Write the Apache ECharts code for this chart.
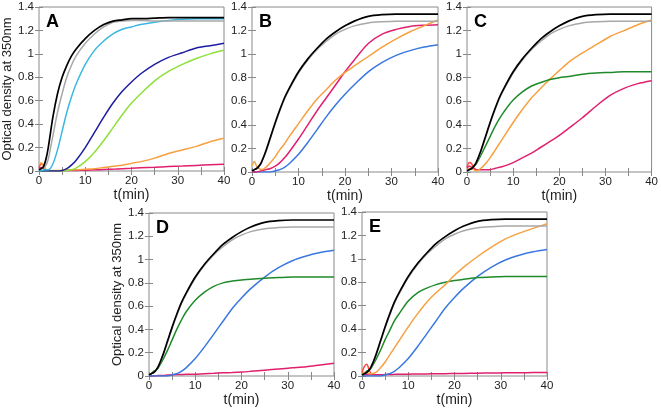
<!DOCTYPE html>
<html><head><meta charset="utf-8">
<script src="https://cdn.jsdelivr.net/npm/echarts@6/dist/echarts.min.js"></script>
<style>html,body{margin:0;padding:0;background:#fff}#c{width:661px;height:409px}</style>
</head><body><div id="c"></div>
<script>
// time points (min)
const T = [0,0.5,1,1.5,2,3,4,5,6,7,8,10,12,14,16,18,20,22,25,28,31,34,37,40];
const xTicks = [0,10,20,30,40];
const yTicks = [0,0.2,0.4,0.6,0.8,1,1.2,1.4];
const panelLabels = ['A','B','C','D','E'];

// Panel A
const A_black  = [0.01,0.02,0.04,0.1,0.2,0.46,0.66,0.8,0.9,0.98,1.04,1.13,1.2,1.25,1.28,1.29,1.3,1.3,1.305,1.31,1.31,1.31,1.31,1.31];
const A_gray   = [0.01,0.02,0.03,0.05,0.1,0.3,0.5,0.66,0.8,0.9,0.98,1.09,1.17,1.23,1.27,1.28,1.285,1.285,1.28,1.28,1.28,1.28,1.28,1.28];
const A_cyan   = [0,0,0.01,0.01,0.01,0.06,0.18,0.34,0.5,0.63,0.74,0.91,1.03,1.11,1.17,1.21,1.23,1.25,1.27,1.285,1.295,1.3,1.3,1.3];
const A_navy   = [0,0,0,0,0,0,0,0.005,0.02,0.05,0.09,0.2,0.33,0.46,0.58,0.68,0.76,0.83,0.91,0.97,1.01,1.05,1.07,1.09];
const A_lime   = [0,0,0,0,0,0,0,0,0.005,0.01,0.025,0.08,0.16,0.26,0.37,0.48,0.58,0.66,0.77,0.85,0.91,0.96,1.0,1.03];
const A_orange = [0.05,0.07,0.04,0.01,0.005,0.005,0.005,0.005,0.01,0.01,0.01,0.015,0.02,0.03,0.04,0.05,0.065,0.08,0.11,0.15,0.18,0.21,0.25,0.28];
const A_pink   = [0.02,0.03,0.02,0.01,0.005,0.003,0.003,0.003,0.004,0.004,0.005,0.007,0.01,0.013,0.016,0.02,0.023,0.027,0.032,0.038,0.043,0.048,0.053,0.057];
const A_red    = [0.03,0.06,0.05,0.01,0.0,null,null,null,null,null,null,null,null,null,null,null,null,null,null,null,null,null,null,null];

// Shared controls for B–E
const K2 = [0.01,0.02,0.03,0.05,0.08,0.18,0.3,0.42,0.53,0.63,0.71,0.85,0.96,1.05,1.13,1.19,1.24,1.28,1.32,1.335,1.34,1.34,1.34,1.34];
const G2 = [0.01,0.02,0.03,0.05,0.08,0.17,0.29,0.41,0.52,0.62,0.7,0.84,0.95,1.04,1.11,1.17,1.21,1.24,1.265,1.275,1.28,1.28,1.28,1.28];

// Panel B
const B_orange = [0.05,0.09,0.05,0.03,0.02,0.04,0.08,0.13,0.19,0.24,0.3,0.41,0.52,0.62,0.7,0.78,0.845,0.9,0.98,1.06,1.13,1.19,1.24,1.29];
const B_pink   = [0,0,0,0.005,0.01,0.02,0.03,0.05,0.08,0.12,0.17,0.28,0.4,0.52,0.63,0.74,0.85,0.95,1.09,1.17,1.21,1.235,1.245,1.25];
const B_blue   = [0,0,0,0,0,0,0,0.01,0.02,0.04,0.07,0.15,0.25,0.36,0.47,0.57,0.66,0.74,0.85,0.93,0.99,1.03,1.06,1.08];

// Panel C
const C_green  = [0.01,0.02,0.03,0.05,0.07,0.14,0.22,0.3,0.38,0.45,0.51,0.61,0.68,0.73,0.76,0.785,0.8,0.81,0.83,0.84,0.845,0.85,0.85,0.85];
const C_orange = [0.02,0.03,0.03,0.02,0.01,0.03,0.07,0.12,0.18,0.24,0.3,0.42,0.53,0.63,0.71,0.79,0.86,0.93,1.01,1.08,1.15,1.2,1.25,1.29];
const C_pink   = [0.03,0.05,0.04,0.03,0.02,0.02,0.02,0.02,0.03,0.04,0.05,0.08,0.12,0.16,0.21,0.26,0.31,0.37,0.46,0.56,0.65,0.71,0.75,0.775];
const C_red    = [0.04,0.08,0.07,0.03,0.02,null,null,null,null,null,null,null,null,null,null,null,null,null,null,null,null,null,null,null];

// Panel D
const D_green  = [0.01,0.02,0.04,0.05,0.07,0.14,0.22,0.31,0.4,0.48,0.55,0.65,0.72,0.77,0.8,0.815,0.825,0.83,0.84,0.845,0.85,0.85,0.85,0.85];
const D_blue   = [0,0,0,0,0,0,0,0.01,0.02,0.04,0.07,0.15,0.25,0.36,0.47,0.58,0.67,0.75,0.85,0.93,0.99,1.03,1.06,1.08];
const D_pink   = [0,0,0,0,0.005,0.005,0.008,0.01,0.012,0.013,0.014,0.016,0.02,0.023,0.027,0.03,0.034,0.04,0.05,0.06,0.07,0.08,0.095,0.11];

// Panel E
const E_green  = [0.01,0.02,0.04,0.05,0.07,0.14,0.22,0.31,0.39,0.47,0.53,0.64,0.71,0.75,0.78,0.8,0.815,0.825,0.84,0.845,0.85,0.85,0.85,0.85];
const E_orange = [0.02,0.03,0.03,0.02,0.02,0.03,0.07,0.12,0.18,0.24,0.3,0.42,0.53,0.63,0.71,0.78,0.86,0.93,1.02,1.1,1.17,1.22,1.26,1.3];
const E_blue   = [0,0,0,0,0,0,0,0.01,0.02,0.04,0.07,0.15,0.25,0.36,0.47,0.58,0.67,0.75,0.85,0.93,0.99,1.03,1.06,1.08];
const E_pink   = [0.01,0.01,0.01,0.01,0.01,0.01,0.01,0.012,0.013,0.014,0.015,0.016,0.017,0.018,0.019,0.02,0.021,0.022,0.024,0.026,0.027,0.028,0.029,0.03];
const E_red    = [0.03,0.08,0.1,0.06,0.01,null,null,null,null,null,null,null,null,null,null,null,null,null,null,null,null,null,null,null];

const COL = {black:'#000000', gray:'#a8a8a8', cyan:'#3ab8e0', navy:'#1c1ca0', lime:'#8ee03a',
  orange:'#f7a040', pink:'#e0206e', blue:'#3a78e0', green:'#1f8a2a', red:'#ff4a3a'};

const panels = [
  {grid:{left:39,top:7,width:185,height:164}, yName:true, series:[
    ['red',A_red],['pink',A_pink],['orange',A_orange],['lime',A_lime],['navy',A_navy],['cyan',A_cyan],['gray',A_gray],['black',A_black]]},
  {grid:{left:252,top:7,width:186,height:165}, yName:false, series:[
    ['blue',B_blue],['pink',B_pink],['orange',B_orange],['gray',G2],['black',K2]]},
  {grid:{left:467,top:7,width:186,height:165}, yName:false, series:[
    ['red',C_red],['pink',C_pink],['orange',C_orange],['green',C_green],['gray',G2],['black',K2]]},
  {grid:{left:149,top:213,width:185,height:163}, yName:true, series:[
    ['pink',D_pink],['blue',D_blue],['green',D_green],['gray',G2],['black',K2]]},
  {grid:{left:362,top:212,width:185,height:164}, yName:false, series:[
    ['red',E_red],['pink',E_pink],['blue',E_blue],['green',E_green],['orange',E_orange],['gray',G2],['black',K2]]}
];

const FONT = 'Liberation Sans, Arial, sans-serif';
const grids=[], xAxes=[], yAxes=[], series=[], graphics=[];
const tickStyle = {show:true, inside:true, length:4, lineStyle:{color:'#888', width:1}};
panels.forEach((p,i)=>{
  grids.push(Object.assign({show:true, borderColor:'#8a8a8a', borderWidth:1, containLabel:false}, p.grid));
  const xi = xAxes.length;
  xAxes.push({type:'value', gridIndex:i, min:xTicks[0], max:xTicks[xTicks.length-1], interval:10, position:'bottom',
    axisLine:{show:false}, axisTick:tickStyle, minorTick:{show:true, splitNumber:2, length:4, lineStyle:{color:'#888'}},
    splitLine:{show:false}, minorSplitLine:{show:false},
    axisLabel:{color:'#222', fontSize:11.5, fontFamily:FONT, margin:4},
    name:'t(min)', nameLocation:'middle', nameGap:15, nameTextStyle:{color:'#222', fontSize:14, fontFamily:FONT}});
  xAxes.push({type:'value', gridIndex:i, min:0, max:40, interval:10, position:'top',
    axisLine:{show:false}, axisTick:tickStyle, minorTick:{show:true, splitNumber:2, length:4, lineStyle:{color:'#888'}},
    splitLine:{show:false}, axisLabel:{show:false}});
  const yi = yAxes.length;
  yAxes.push({type:'value', gridIndex:i, min:yTicks[0], max:yTicks[yTicks.length-1], interval:0.2, position:'left',
    axisLine:{show:false}, axisTick:tickStyle, splitLine:{show:false},
    axisLabel:{color:'#222', fontSize:11.5, fontFamily:FONT, margin:5, formatter:v=>String(+v.toFixed(1))},
    name:p.yName?'Optical density at 350nm':'', nameLocation:'middle', nameGap:23,
    nameTextStyle:{color:'#222', fontSize:13, fontFamily:FONT}});
  yAxes.push({type:'value', gridIndex:i, min:0, max:1.4, interval:0.2, position:'right',
    axisLine:{show:false}, axisTick:tickStyle, splitLine:{show:false}, axisLabel:{show:false}});
  p.series.forEach(([c,arr])=>{
    series.push({type:'line', xAxisIndex:xi, yAxisIndex:yi, data:T.map((t,k)=>[t,arr[k]]),
      showSymbol:false, smooth:0.3, connectNulls:false,
      lineStyle:{color:COL[c], width:c==='black'?1.7:1.5}, itemStyle:{color:COL[c]}, silent:true, animation:false, z:2});
  });
  graphics.push({type:'text', left:p.grid.left+7, top:p.grid.top+6,
    style:{text:panelLabels[i], font:'bold 18px '+FONT, fill:'#000'}});
});

const chart = echarts.init(document.getElementById('c'), null, {renderer:'canvas'});
chart.setOption({animation:false, grid:grids, xAxis:xAxes, yAxis:yAxes, series:series, graphic:graphics});
</script></body></html>
